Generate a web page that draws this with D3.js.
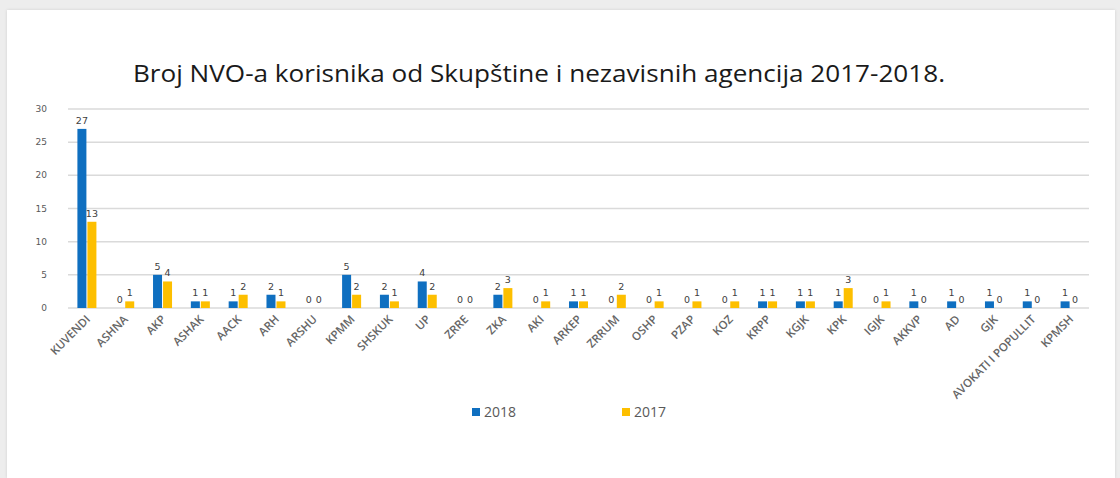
<!DOCTYPE html>
<html>
<head>
<meta charset="utf-8">
<script src="https://cdn.jsdelivr.net/npm/d3@7"></script>
<style>
  html, body { margin: 0; padding: 0; background: #ededed; }
  #chart { position: absolute; left: 7px; top: 10px; width: 1108px; height: 468px; background: #fff;
           box-shadow: 0 0 3px rgba(0,0,0,0.12); }
  svg { display: block; }
</style>
</head>
<body>
<div id="chart"></div>
<script>
// Kategorije (agencije)
const categories = ["KUVENDI", "ASHNA", "AKP", "ASHAK", "AACK", "ARH", "ARSHU", "KPMM", "SHSKUK", "UP",
  "ZRRE", "ZKA", "AKI", "ARKEP", "ZRRUM", "OSHP", "PZAP", "KOZ", "KRPP", "KGJK", "KPK", "IGJK",
  "AKKVP", "AD", "GJK", "AVOKATI I POPULLIT", "KPMSH"]

// Broj NVO po godini
const values2018 = [27, 0, 5, 1, 1, 2, 0, 5, 2, 4, 0, 2, 0, 1, 0, 0, 0, 0, 1, 1, 1, 0, 1, 1, 1, 1, 1]
const values2017 = [13, 1, 4, 1, 2, 1, 0, 2, 1, 2, 0, 3, 1, 1, 2, 1, 1, 1, 1, 1, 3, 1, 0, 0, 0, 0, 0]

const seriesNames = ["2018", "2017"]
const seriesColors = ["#0f6fc0", "#fdbf00"]
const yTicks = [0, 5, 10, 15, 20, 25, 30]

const title = "Broj NVO-a korisnika od Skupštine i nezavisnih agencija 2017-2018."

const rows = categories.map((c, i) => ({ cat: c, vals: [values2018[i], values2017[i]] }))

// coordinates relative to the page, svg is shifted by the panel offset
const offX = 7, offY = 10
const margin = { top: 109, right: 31, bottom: 171, left: 68 }
const W = 1120, H = 478

const svg = d3.select("#chart")
  .append("svg")
  .attr("width", 1108)
  .attr("height", 468)
  .append("g")
  .attr("transform", `translate(${-offX},${-offY})`)

const x = d3.scaleBand()
  .domain(categories)
  .range([margin.left, W - margin.right])

const x1 = d3.scaleBand()
  .domain(seriesNames)
  .range([0, x.bandwidth()])
  .paddingInner(0.1)
  .paddingOuter(0.94)

const y = d3.scaleLinear()
  .domain([0, 30])
  .range([H - margin.bottom + 1, margin.top])

// Titre
svg.append("text")
  .attr("x", 539)
  .attr("y", 82)
  .attr("text-anchor", "middle")
  .attr("font-family", "'Open Sans', sans-serif")
  .attr("font-size", 24)
  .attr("fill", "#1a1a1a")
  .attr("textLength", 812)
  .attr("lengthAdjust", "spacingAndGlyphs")
  .text(title)

// grid
svg.append("g")
  .selectAll("line")
  .data(yTicks)
  .join("line")
  .attr("x1", margin.left)
  .attr("x2", W - margin.right)
  .attr("y1", d => y(d))
  .attr("y2", d => y(d))
  .attr("stroke", "#dadada")
  .attr("stroke-width", 1.5)

// y axis labels
svg.append("g")
  .selectAll("text")
  .data(yTicks)
  .join("text")
  .attr("x", 47)
  .attr("y", d => y(d) + 3)
  .attr("text-anchor", "end")
  .attr("font-family", "'DejaVu Sans', sans-serif")
  .attr("font-size", 9)
  .attr("fill", "#595959")
  .text(d => d)

// bars
const groups = svg.append("g")
  .selectAll("g")
  .data(rows)
  .join("g")
  .attr("transform", d => `translate(${x(d.cat)},0)`)

groups.selectAll("rect")
  .data(d => d.vals.map((v, k) => ({ key: seriesNames[k], v: v, k: k })))
  .join("rect")
  .attr("x", d => x1(d.key))
  .attr("width", x1.bandwidth())
  .attr("y", d => y(d.v))
  .attr("height", d => y(0) - y(d.v))
  .attr("fill", d => seriesColors[d.k])

// data labels
groups.selectAll("text")
  .data(d => d.vals.map((v, k) => ({ key: seriesNames[k], v: v, k: k })))
  .join("text")
  .attr("x", d => x1(d.key) + x1.bandwidth() / 2)
  .attr("y", d => y(d.v) - 5)
  .attr("text-anchor", "middle")
  .attr("font-family", "'DejaVu Sans', sans-serif")
  .attr("font-size", 9.5)
  .attr("fill", "#404040")
  .text(d => d.v)

// x labels
svg.append("g")
  .selectAll("text")
  .data(categories)
  .join("text")
  .attr("transform", d => `translate(${x(d) + x.bandwidth() / 2 + 4},${y(0) + 12}) rotate(-45)`)
  .attr("text-anchor", "end")
  .attr("font-family", "'Open Sans', sans-serif")
  .attr("font-weight", 600)
  .attr("font-size", 11.5)
  .attr("fill", "#666")
  .text(d => d)

// legend
const legend = svg.append("g")
  .selectAll("g")
  .data(seriesNames)
  .join("g")
  .attr("transform", (d, i) => `translate(${472 + i * 150},${408})`)

legend.append("rect")
  .attr("width", 8)
  .attr("height", 8)
  .attr("fill", (d, i) => seriesColors[i])

legend.append("text")
  .attr("x", 12)
  .attr("y", 9)
  .attr("font-family", "'Open Sans', sans-serif")
  .attr("font-size", 14)
  .attr("fill", "#595959")
  .text(d => d)
</script>
</body>
</html>
